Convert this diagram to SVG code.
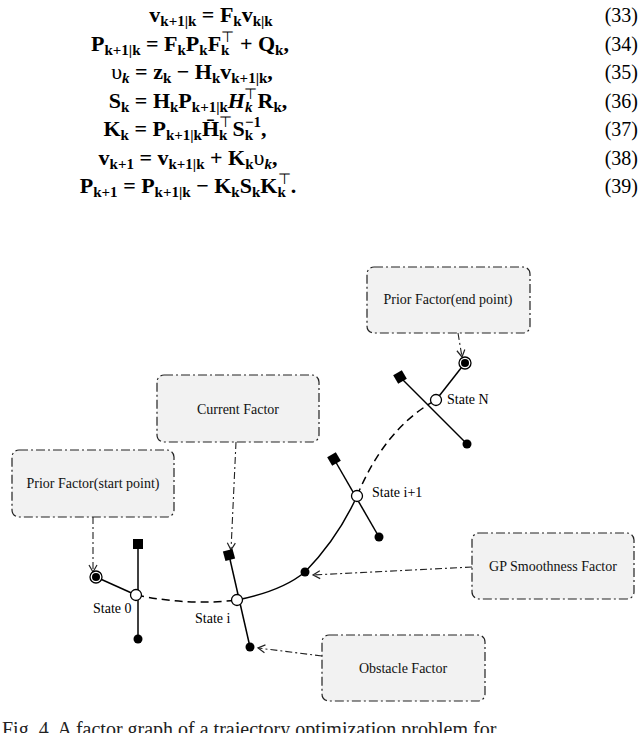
<svg xmlns="http://www.w3.org/2000/svg" width="640" height="733" viewBox="0 0 640 733">
<defs>
<style>
.eq{font-family:"Liberation Serif",serif;font-weight:bold;font-size:22px;text-anchor:middle;fill:#000}
.num{font-family:"Liberation Serif",serif;font-size:20px;text-anchor:end;fill:#000}
.s{font-size:15px}
.lbl{font-family:"Liberation Serif",serif;font-size:14px;fill:#000}
.box{fill:#f2f2f2;stroke:#222;stroke-width:1.2;stroke-dasharray:9 3 2 3}
.btxt{font-family:"Liberation Serif",serif;font-size:14px;text-anchor:middle;fill:#111}
.arr{fill:none;stroke:#222;stroke-width:1.1;stroke-dasharray:7 3 2 3}
.edge{stroke:#000;stroke-width:1.5;fill:none}
.st{fill:#fff;stroke:#000;stroke-width:1.3}
</style>
<marker id="ah" markerWidth="10" markerHeight="10" refX="8" refY="5" orient="auto" markerUnits="userSpaceOnUse">
<path d="M1,1 L8,5 L1,9" fill="none" stroke="#222" stroke-width="1.2"/>
</marker>
</defs>
<rect width="640" height="733" fill="#fff"/>
<g id="equations">
<text class="eq" x="211" y="22">v<tspan class="s" dy="4">k+1|k</tspan><tspan dy="-4"> = F</tspan><tspan class="s" dy="4">k</tspan><tspan dy="-4">v</tspan><tspan class="s" dy="4">k|k</tspan></text>
<text class="eq" x="190" y="51">P<tspan class="s" dy="4">k+1|k</tspan><tspan dy="-4"> = F</tspan><tspan class="s" dy="4">k</tspan><tspan dy="-4">P</tspan><tspan class="s" dy="4">k</tspan><tspan dy="-4">F</tspan><tspan class="s" dy="4">k</tspan><tspan class="s" dx="-8" dy="-13" font-weight="normal">⊤</tspan><tspan dy="9"> + Q</tspan><tspan class="s" dy="4">k</tspan><tspan dy="-4">,</tspan></text>
<text class="eq" x="192" y="79"><tspan font-weight="normal">υ</tspan><tspan class="s" dy="4" font-style="italic">k</tspan><tspan dy="-4"> = z</tspan><tspan class="s" dy="4">k</tspan><tspan dy="-4"> − H</tspan><tspan class="s" dy="4">k</tspan><tspan dy="-4">v</tspan><tspan class="s" dy="4">k+1|k</tspan><tspan dy="-4">,</tspan></text>
<text class="eq" x="198" y="108">S<tspan class="s" dy="4">k</tspan><tspan dy="-4"> = H</tspan><tspan class="s" dy="4">k</tspan><tspan dy="-4">P</tspan><tspan class="s" dy="4">k+1|k</tspan><tspan dy="-4" font-style="italic">H</tspan><tspan class="s" dy="4" font-style="italic">k</tspan><tspan class="s" dx="-8" dy="-13" font-weight="normal">⊤</tspan><tspan dy="9">R</tspan><tspan class="s" dy="4">k</tspan><tspan dy="-4">,</tspan></text>
<text class="eq" x="185" y="136">K<tspan class="s" dy="4">k</tspan><tspan dy="-4"> = P</tspan><tspan class="s" dy="4">k+1|k</tspan><tspan dy="-4">H̄</tspan><tspan class="s" dy="4">k</tspan><tspan class="s" dx="-8" dy="-13" font-weight="normal">⊤</tspan><tspan dy="9">S</tspan><tspan class="s" dy="4">k</tspan><tspan class="s" dx="-8" dy="-13">−1</tspan><tspan dy="9">,</tspan></text>
<text class="eq" x="188" y="165">v<tspan class="s" dy="4">k+1</tspan><tspan dy="-4"> = v</tspan><tspan class="s" dy="4">k+1|k</tspan><tspan dy="-4"> + K</tspan><tspan class="s" dy="4">k</tspan><tspan dy="-4" font-weight="normal">υ</tspan><tspan class="s" dy="4" font-style="italic">k</tspan><tspan dy="-4">,</tspan></text>
<text class="eq" x="188" y="193">P<tspan class="s" dy="4">k+1</tspan><tspan dy="-4"> = P</tspan><tspan class="s" dy="4">k+1|k</tspan><tspan dy="-4"> − K</tspan><tspan class="s" dy="4">k</tspan><tspan dy="-4">S</tspan><tspan class="s" dy="4">k</tspan><tspan dy="-4">K</tspan><tspan class="s" dy="4">k</tspan><tspan class="s" dx="-8" dy="-13" font-weight="normal">⊤</tspan><tspan dy="9">.</tspan></text>
<text class="num" x="638" y="22">(33)</text>
<text class="num" x="638" y="51">(34)</text>
<text class="num" x="638" y="79">(35)</text>
<text class="num" x="638" y="108">(36)</text>
<text class="num" x="638" y="136">(37)</text>
<text class="num" x="638" y="165">(38)</text>
<text class="num" x="638" y="193">(39)</text>
</g>
<g id="connectors">
<path class="edge" d="M136,595 Q190,606 237,600" stroke-dasharray="8 5"/>
<path class="edge" d="M237,600 Q282,591 305,572"/>
<path class="edge" d="M305,572 Q338,538 357,496" stroke="#555"/>
<path class="edge" d="M357,496 Q385,428 436,400" stroke-dasharray="8 5"/>
<line class="edge" x1="96" y1="577" x2="136" y2="595"/>
<line class="edge" x1="138" y1="544" x2="138" y2="639"/>
<line class="edge" x1="229" y1="555" x2="250" y2="647"/>
<line class="edge" x1="334" y1="459" x2="379" y2="537"/>
<line class="edge" x1="400" y1="377" x2="467" y2="444"/>
<line class="edge" x1="436" y1="400" x2="465" y2="363"/>
<path class="arr" d="M93,517 L93,572" marker-end="url(#ah)"/>
<path class="arr" d="M236,442 L231,550" marker-end="url(#ah)"/>
<path class="arr" d="M458,333 L462,357" marker-end="url(#ah)"/>
<path class="arr" d="M472,567 L313,575" marker-end="url(#ah)"/>
<path class="arr" d="M322,656 L258,648" marker-end="url(#ah)"/>
</g>
<g id="factors">
<circle cx="96" cy="577" r="6" fill="#fff" stroke="#000" stroke-width="1.3"/>
<circle cx="96" cy="577" r="4" fill="#000"/>
<rect x="133" y="539" width="10" height="10" fill="#000"/>
<circle cx="138" cy="639" r="4.5" fill="#000"/>
<rect x="224" y="550" width="10" height="10" fill="#000" transform="rotate(-15 229 555)"/>
<circle cx="250" cy="647" r="4.5" fill="#000"/>
<circle cx="305" cy="572" r="4.5" fill="#000"/>
<rect x="329" y="454" width="10" height="10" fill="#000" transform="rotate(-30 334 459)"/>
<circle cx="379" cy="537" r="4.5" fill="#000"/>
<rect x="395" y="372" width="10" height="10" fill="#000" transform="rotate(-30 400 377)"/>
<circle cx="467" cy="444" r="4.5" fill="#000"/>
<circle cx="465" cy="363" r="6" fill="#fff" stroke="#000" stroke-width="1.3"/>
<circle cx="465" cy="363" r="4" fill="#000"/>
</g>
<g id="state0"><circle class="st" cx="136" cy="595" r="5.5"/><text class="lbl" x="93" y="613">State 0</text></g>
<g id="statei"><circle class="st" cx="237" cy="600" r="5.5"/><text class="lbl" x="195" y="623">State i</text></g>
<g id="statei1"><circle class="st" cx="357" cy="496" r="5.5"/><text class="lbl" x="372" y="497">State i+1</text></g>
<g id="stateN"><circle class="st" cx="436" cy="400" r="5.5"/><text class="lbl" x="447" y="404">State N</text></g>
<g id="box-prior-start"><rect class="box" x="12" y="450" width="162" height="67" rx="7"/><text class="btxt" x="93" y="488">Prior Factor(start point)</text></g>
<g id="box-current"><rect class="box" x="157" y="375" width="162" height="67" rx="7"/><text class="btxt" x="238" y="414">Current Factor</text></g>
<g id="box-prior-end"><rect class="box" x="367" y="267" width="163" height="66" rx="7"/><text class="btxt" x="448" y="304">Prior Factor(end point)</text></g>
<g id="box-gp"><rect class="box" x="472" y="533" width="162" height="66" rx="7"/><text class="btxt" x="553" y="571">GP Smoothness Factor</text></g>
<g id="box-obstacle"><rect class="box" x="322" y="635" width="163" height="66" rx="7"/><text class="btxt" x="403" y="673">Obstacle Factor</text></g>
<text x="2" y="736" font-family="Liberation Serif,serif" font-size="20" fill="#222">Fig. 4. A factor graph of a trajectory optimization problem for</text>
</svg>
